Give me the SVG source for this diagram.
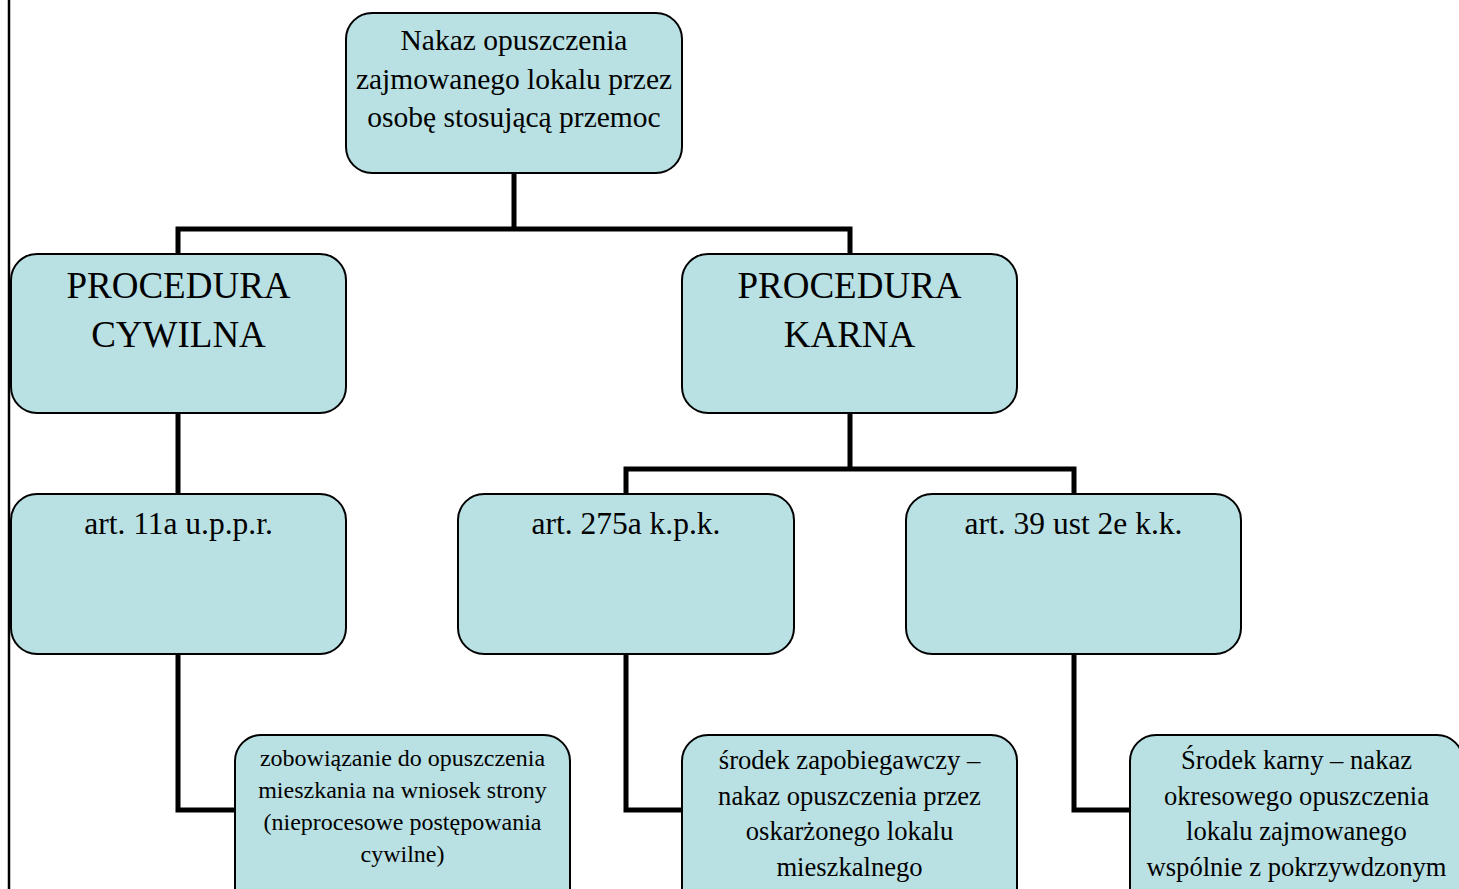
<svg xmlns="http://www.w3.org/2000/svg" width="1459" height="889" viewBox="0 0 1459 889">
  <style>
    .box { fill: #b9e0e3; stroke: #000; stroke-width: 2; }
    .conn { fill: none; stroke: #000; stroke-width: 5; stroke-linejoin: miter; stroke-linecap: square; }
    text { font-family: "Liberation Serif", "Times New Roman", serif; fill: #000; text-anchor: middle; }
    .t28 { font-size: 29.5px; }
    .tart { font-size: 31.5px; }
    .t37 { font-size: 37px; }
    .t22 { font-size: 24px; }
    .t25 { font-size: 26.6px; }
  </style>
  <rect x="0" y="0" width="1459" height="889" fill="#fff"/>
  <line x1="9" y1="0" x2="9" y2="889" stroke="#000" stroke-width="2.5"/>

  <g id="connectors">
    <path class="conn" d="M514 173 V229 M178 254 V229 H850 V254"/>
    <path class="conn" d="M178 413 V494"/>
    <path class="conn" d="M850 413 V469 M626 494 V469 H1074 V494"/>
    <path class="conn" d="M178 654 V810 H235"/>
    <path class="conn" d="M626 654 V810 H682"/>
    <path class="conn" d="M1074 654 V810 H1130"/>
  </g>

  <g id="root">
    <rect class="box" x="346" y="13" width="336" height="160" rx="26"/>
    <text class="t28" x="514" y="50">Nakaz opuszczenia</text>
    <text class="t28" x="514" y="89">zajmowanego lokalu przez</text>
    <text class="t28" x="514" y="127">osobę stosującą przemoc</text>
  </g>

  <g id="cywilna">
    <rect class="box" x="11" y="254" width="335" height="159" rx="26"/>
    <text class="t37" x="178.5" y="298">PROCEDURA</text>
    <text class="t37" x="178.5" y="347">CYWILNA</text>
  </g>

  <g id="karna">
    <rect class="box" x="682" y="254" width="335" height="159" rx="26"/>
    <text class="t37" x="849.5" y="298">PROCEDURA</text>
    <text class="t37" x="849.5" y="347">KARNA</text>
  </g>

  <g id="art11a">
    <rect class="box" x="11" y="494" width="335" height="160" rx="26"/>
    <text class="tart" x="178.5" y="534">art. 11a u.p.p.r.</text>
  </g>

  <g id="art275a">
    <rect class="box" x="458" y="494" width="336" height="160" rx="26"/>
    <text class="tart" x="626" y="534">art. 275a k.p.k.</text>
  </g>

  <g id="art39">
    <rect class="box" x="906" y="494" width="335" height="160" rx="26"/>
    <text class="tart" x="1073.5" y="534">art. 39 ust 2e k.k.</text>
  </g>

  <g id="zobowiazanie">
    <rect class="box" x="235" y="735" width="335" height="180" rx="26"/>
    <text class="t22" x="402.5" y="766">zobowiązanie do opuszczenia</text>
    <text class="t22" x="402.5" y="798">mieszkania na wniosek strony</text>
    <text class="t22" x="402.5" y="830">(nieprocesowe postępowania</text>
    <text class="t22" x="402.5" y="862">cywilne)</text>
  </g>

  <g id="zapobiegawczy">
    <rect class="box" x="682" y="735" width="335" height="180" rx="26"/>
    <text class="t25" x="849.5" y="769">środek zapobiegawczy –</text>
    <text class="t25" x="849.5" y="805">nakaz opuszczenia przez</text>
    <text class="t25" x="849.5" y="840">oskarżonego lokalu</text>
    <text class="t25" x="849.5" y="876">mieszkalnego</text>
  </g>

  <g id="karny">
    <rect class="box" x="1130" y="735" width="333" height="180" rx="26"/>
    <text class="t25" x="1296.5" y="769">Środek karny – nakaz</text>
    <text class="t25" x="1296.5" y="805">okresowego opuszczenia</text>
    <text class="t25" x="1296.5" y="840">lokalu zajmowanego</text>
    <text class="t25" x="1296.5" y="876">wspólnie z pokrzywdzonym</text>
  </g>
</svg>
